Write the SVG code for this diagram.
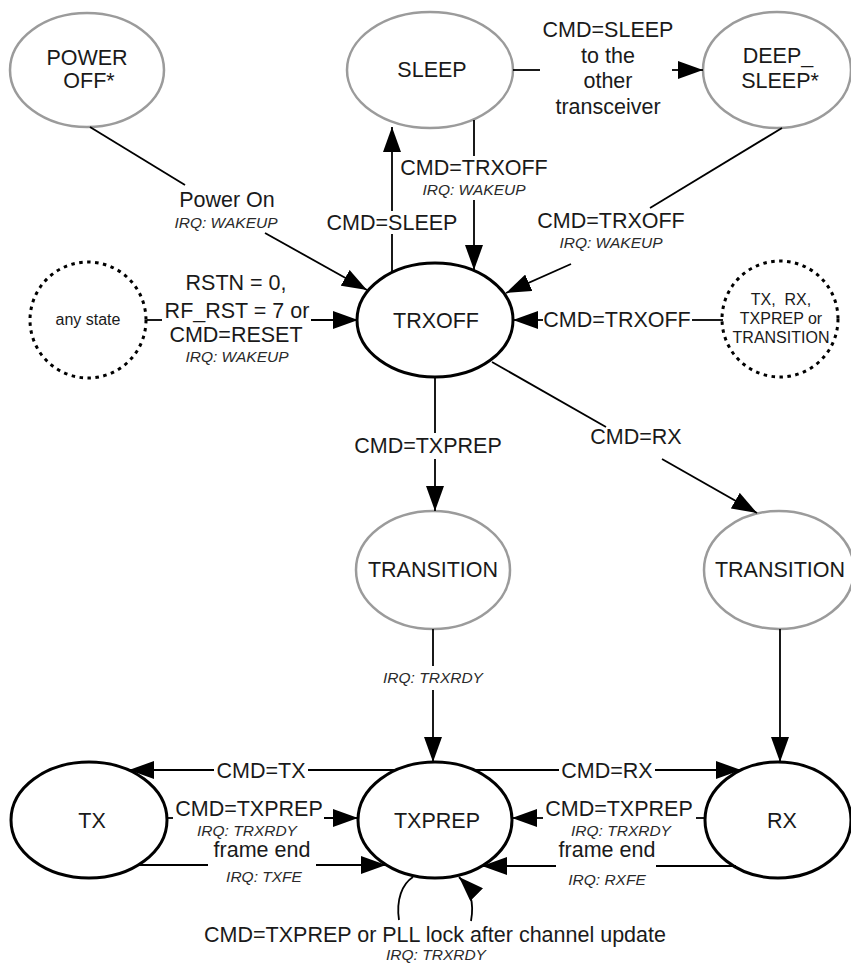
<svg xmlns="http://www.w3.org/2000/svg" width="851" height="970" viewBox="0 0 851 970">
<defs>
<style>
text{font-family:"Liberation Sans",Arial,sans-serif;fill:#1a1a1a;text-anchor:middle}
.t{font-size:21.5px}
.i{font-size:15.5px;font-style:italic;fill:#2a2a2a}
.s{font-size:16px}
.g{fill:#fff;stroke:#9b9b9b;stroke-width:2.5}
.b{fill:#fff;stroke:#000;stroke-width:3}
.d{fill:#fff;stroke:#000;stroke-width:3;stroke-dasharray:3.5 4.5}
.c{fill:none;stroke:#000;stroke-width:1.8}
.a{marker-end:url(#ah)}
</style>
<marker id="ah" markerUnits="userSpaceOnUse" markerWidth="25" markerHeight="18" refX="25" refY="9" orient="auto">
<path d="M0,0 L25,9 L0,18 z" fill="#000"/>
</marker>
</defs>
<rect width="851" height="970" fill="#fff"/>

<g id="power_off">
<ellipse class="g" cx="87" cy="70" rx="77" ry="57"/>
<text class="t" x="87" y="65">POWER</text>
<text class="t" x="89" y="88">OFF*</text>
</g>
<g id="sleep">
<ellipse class="g" cx="430" cy="70" rx="83" ry="58"/>
<text class="t" x="432" y="77">SLEEP</text>
</g>
<g id="deep_sleep">
<ellipse class="g" cx="777" cy="70" rx="74" ry="58"/>
<text class="t" x="778" y="63">DEEP_</text>
<text class="t" x="780" y="88">SLEEP*</text>
</g>
<g id="any_state">
<circle class="d" cx="88" cy="320" r="58"/>
<text class="s" x="88" y="325">any state</text>
</g>
<g id="trxoff">
<ellipse class="b" cx="435" cy="320" rx="78" ry="57"/>
<text class="t" x="436" y="328">TRXOFF</text>
</g>
<g id="other_states">
<circle class="d" cx="780" cy="319" r="58"/>
<text class="s" x="781" y="305" xml:space="preserve">TX,  RX,</text>
<text class="s" x="781" y="324">TXPREP or</text>
<text class="s" x="781" y="343">TRANSITION</text>
</g>
<g id="transition_tx">
<ellipse class="g" cx="433" cy="570" rx="77" ry="59"/>
<text class="t" x="433" y="577">TRANSITION</text>
</g>
<g id="transition_rx">
<ellipse class="g" cx="779" cy="570" rx="75" ry="59"/>
<text class="t" x="780" y="577">TRANSITION</text>
</g>
<g id="tx">
<ellipse class="b" cx="89" cy="820" rx="78" ry="58"/>
<text class="t" x="92" y="828">TX</text>
</g>
<g id="txprep">
<ellipse class="b" cx="435" cy="820" rx="77" ry="58"/>
<text class="t" x="437" y="828">TXPREP</text>
</g>
<g id="rx">
<ellipse class="b" cx="778" cy="820" rx="73" ry="58"/>
<text class="t" x="782" y="828">RX</text>
</g>

<g id="connectors">
<g id="e_poweron">
<path class="c" d="M90,127 L185,185"/>
<path class="c a" d="M265,233 L367,290"/>
<text class="t" x="227" y="207">Power On</text>
<text class="i" x="226" y="228">IRQ: WAKEUP</text>
</g>
<g id="e_sleep">
<path class="c" d="M392,272 L392,234"/>
<path class="c a" d="M392,211 L392,127"/>
<text class="t" x="392" y="230">CMD=SLEEP</text>
</g>
<g id="e_sleep_trxoff">
<path class="c" d="M474,120 L474,156"/>
<path class="c a" d="M474,200 L474,270"/>
<text class="t" x="474" y="175">CMD=TRXOFF</text>
<text class="i" x="474" y="195">IRQ: WAKEUP</text>
</g>
<g id="e_deepsleep">
<path class="c" d="M513,70 L540,70"/>
<path class="c a" d="M672,70 L703,70"/>
<text class="t" x="608" y="37">CMD=SLEEP</text>
<text class="t" x="608" y="63">to the</text>
<text class="t" x="608" y="88">other</text>
<text class="t" x="608" y="114">transceiver</text>
</g>
<g id="e_deep_trxoff">
<path class="c" d="M782,128 L650,208"/>
<path class="c a" d="M571,264 L506,293"/>
<text class="t" x="611" y="228">CMD=TRXOFF</text>
<text class="i" x="611" y="248">IRQ: WAKEUP</text>
</g>
<g id="e_reset">
<path class="c" d="M147,320 L162,320"/>
<path class="c a" d="M311,320 L358,320"/>
<text class="t" x="236" y="290">RSTN = 0,</text>
<text class="t" x="237" y="318">RF_RST = 7 or</text>
<text class="t" x="236" y="342">CMD=RESET</text>
<text class="i" x="237" y="362">IRQ: WAKEUP</text>
</g>
<g id="e_any_trxoff">
<path class="c" d="M723,320 L692,320"/>
<path class="c a" d="M543,320 L513,320"/>
<text class="t" x="617" y="327">CMD=TRXOFF</text>
</g>
<g id="e_txprep">
<path class="c" d="M435,377 L435,433"/>
<path class="c a" d="M435,459 L435,511"/>
<text class="t" x="428" y="453">CMD=TXPREP</text>
</g>
<g id="e_rx">
<path class="c" d="M492,362 L606,427"/>
<path class="c a" d="M662,459 L757,513"/>
<text class="t" x="636" y="444">CMD=RX</text>
</g>
<g id="e_trxrdy">
<path class="c" d="M433,629 L433,666"/>
<path class="c a" d="M433,690 L433,762"/>
<text class="i" x="433" y="683">IRQ: TRXRDY</text>
</g>
<g id="e_rx_ready">
<path class="c a" d="M780,629 L780,762"/>
</g>
<g id="e_cmd_tx">
<path class="c" d="M396,770 L308,770"/>
<path class="c a" d="M214,770 L129,770"/>
<text class="t" x="261" y="778">CMD=TX</text>
</g>
<g id="e_cmd_rx">
<path class="c" d="M474,770 L559,770"/>
<path class="c a" d="M655,770 L741,770"/>
<text class="t" x="607" y="778">CMD=RX</text>
</g>
<g id="e_tx_txprep">
<path class="c" d="M167,818 L173,818"/>
<path class="c a" d="M324,818 L358,818"/>
<text class="t" x="249" y="816">CMD=TXPREP</text>
<text class="i" x="247" y="836">IRQ: TRXRDY</text>
</g>
<g id="e_tx_frame">
<path class="c" d="M138,865 L208,865"/>
<path class="c a" d="M316,865 L386,865"/>
<text class="t" x="262" y="857">frame end</text>
<text class="i" x="264" y="882">IRQ: TXFE</text>
</g>
<g id="e_rx_txprep">
<path class="c" d="M705,818 L696,818"/>
<path class="c a" d="M543,818 L512,818"/>
<text class="t" x="619" y="816">CMD=TXPREP</text>
<text class="i" x="621" y="836">IRQ: TRXRDY</text>
</g>
<g id="e_rx_frame">
<path class="c" d="M736,866 L656,866"/>
<path class="c a" d="M556,866 L482,866"/>
<text class="t" x="607" y="857">frame end</text>
<text class="i" x="607" y="885">IRQ: RXFE</text>
</g>
<g id="e_loop">
<path class="c" d="M413,877 C402,884 396,900 399,920"/>
<path class="c a" d="M471,921 C474,905 472,890 459,877"/>
<text class="t" x="435" y="942">CMD=TXPREP or PLL lock after channel update</text>
<text class="i" x="436" y="960">IRQ: TRXRDY</text>
</g>
</g>
</svg>
